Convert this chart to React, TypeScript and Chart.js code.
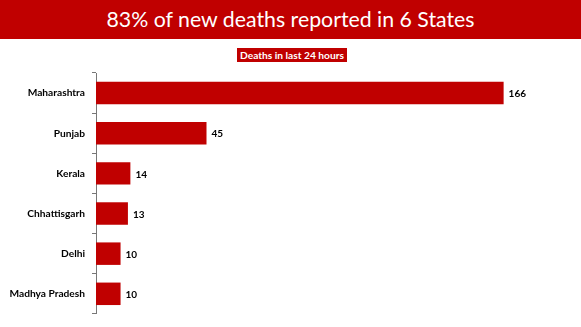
import React, { useEffect, useRef } from "react";
import { Chart, registerables } from "chart.js";

Chart.register(...registerables);

const TITLE = "83% of new deaths reported in 6 States";
const SUBTITLE = "Deaths in last 24 hours";
const states = ["Maharashtra", "Punjab", "Kerala", "Chhattisgarh", "Delhi", "Madhya Pradesh"];
const deaths = [166, 45, 14, 13, 10, 10];

const RED = "#C00000";

const valueLabels = {
  id: "valueLabels",
  afterDatasetsDraw(chart: any) {
    const { ctx } = chart;
    const meta = chart.getDatasetMeta(0);
    ctx.save();
    ctx.font = "bold 10px Lato";
    ctx.fillStyle = "#000";
    ctx.textAlign = "left";
    ctx.textBaseline = "middle";
    meta.data.forEach((bar: any, i: number) => {
      ctx.fillText(String(deaths[i]), bar.x + 5, bar.y + 1);
    });
    ctx.restore();
  },
};

export default function App() {
  const ref = useRef<HTMLCanvasElement>(null);
  useEffect(() => {
    document.body.style.margin = "0";
    const chart = new Chart(ref.current!, {
      type: "bar",
      data: {
        labels: states,
        datasets: [
          {
            data: deaths,
            backgroundColor: RED,
            barPercentage: 0.56,
            categoryPercentage: 1,
          },
        ],
      },
      options: {
        indexAxis: "y",
        animation: false,
        responsive: false,
        layout: { padding: { top: 73, bottom: 9, left: 0, right: 43 } },
        plugins: { legend: { display: false }, tooltip: { enabled: false } },
        scales: {
          x: { display: false, min: 0, max: 180 },
          y: {
            afterFit(scale: any) {
              scale.width = 96;
            },
            grid: {
              offset: true,
              drawOnChartArea: false,
              tickLength: 4,
              color: "#777",
            },
            border: { color: "#777", width: 1 },
            ticks: {
              padding: 7,
              color: "#000",
              font: { family: "Lato", weight: "bold", size: 10.2 },
            },
          },
        },
      },
      plugins: [valueLabels],
    });
    return () => chart.destroy();
  }, []);

  return (
    <div style={{ position: "relative", width: 581, height: 327, background: "#fff", overflow: "hidden" }}>
      <canvas ref={ref} width={581} height={327} style={{ position: "absolute", left: 0, top: 0 }} />
      <div
        style={{
          position: "absolute",
          left: 0,
          top: 0,
          width: 581,
          height: 39,
          background: RED,
          color: "#fff",
          fontFamily: "Lato",
          fontSize: 21.3,
          lineHeight: "39px",
          textAlign: "center",
        }}
      >
        {TITLE}
      </div>
      <div
        style={{
          position: "absolute",
          left: 237,
          top: 48,
          width: 110,
          height: 14,
          background: RED,
          color: "#fff",
          fontFamily: "Lato",
          fontWeight: "bold",
          fontSize: 10.2,
          lineHeight: "14px",
          textAlign: "center",
          whiteSpace: "nowrap",
        }}
      >
        {SUBTITLE}
      </div>
    </div>
  );
}
